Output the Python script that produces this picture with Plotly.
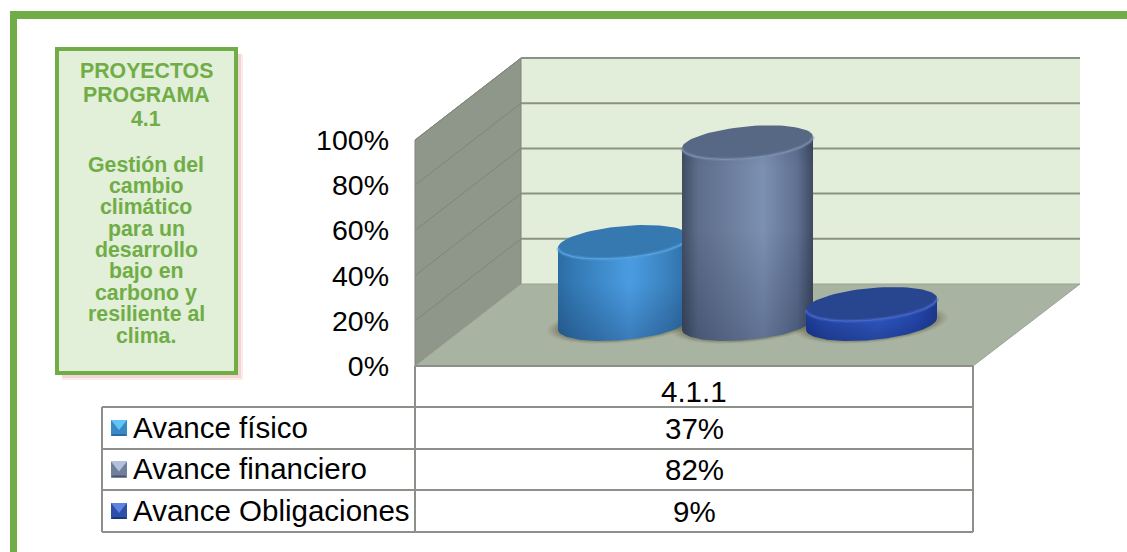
import math
import plotly.graph_objects as go

# ---- data ----
group_label = "4.1.1"
series_names = ["Avance físico", "Avance financiero", "Avance Obligaciones"]
series_values = [37, 82, 9]
tick_values = [0, 20, 40, 60, 80, 100]
tick_labels = ["0%", "20%", "40%", "60%", "80%", "100%"]
box_head = ["PROYECTOS", "PROGRAMA", "4.1"]
box_body = ["Gestión del", "cambio", "climático", "para un", "desarrollo",
            "bajo en", "carbono y", "resiliente al", "clima."]

# ---- styles ----
W, H = 1127, 552
FONT = "Liberation Sans"
GREEN = "#70AD47"
PALE = "#E2EFD9"
EDGE = "#8C8F8A"
GRID = "#8A9283"
top_cols = ["#3678B0", "#566884", "#27468F"]
rim_cols = ["#55A5E2", "#7C90B0", "#4A6AD0"]
body_scales = [
    [[0, "#2C6CA4"], [0.12, "#3379B4"], [0.55, "#4A9CE2"], [0.85, "#3A80BC"], [1, "#2C6CA4"]],
    [[0, "#3F4C62"], [0.12, "#5D6D8A"], [0.62, "#7C90B2"], [0.88, "#5F7090"], [1, "#3E4A60"]],
    [[0, "#1C3A94"], [0.15, "#2547A8"], [0.55, "#2E55BE"], [0.85, "#2344A6"], [1, "#1B368A"]],
]
key_cols = [("#62C4F2", "#3A88C6", "#2A6AA0"), ("#B4C0DC", "#6F7F9C", "#46536B"),
            ("#5F83E0", "#2C4FA8", "#1D3478")]

# ---- geometry: value axis is in percent, the other y axis in page pixels ----
Y0_PX, PX_PER_PCT = 366, 2.26
DX, DY = 106, 82          # depth vector of the floor
LEFT, RIGHT = 415, 973
y_top = Y0_PX / PX_PER_PCT
y_bot = (Y0_PX - H) / PX_PER_PCT
BAR_SCALE = 0.98          # foreshortening of bars set back from the front plane
BASE_PCT = (Y0_PX - 324) / PX_PER_PCT
A, B, C = 61.7, 22.0, 17.0
C_PCT = C / PX_PER_PCT
T0 = math.atan2(B, A)
FIRST_CX, STEP_CX = 623.5, 124


def ell(cx, cy, t_from, t_to, k=1.0, n=80):
    xs, ys = [], []
    for i in range(n + 1):
        t = t_from + (t_to - t_from) * i / n
        xs.append(cx + k * (A * math.cos(t) + B * math.sin(t)))
        ys.append(cy + k * C_PCT * math.sin(t))
    return xs, ys


fig = go.Figure()

# grid lines of both walls, taken from the value ticks
for tv in tick_values[1:]:
    fig.add_trace(go.Scatter(x=[LEFT, LEFT + DX], y=[tv, tv + DY / PX_PER_PCT], mode="lines",
                             line=dict(color="#7E8678", width=1), hoverinfo="skip", showlegend=False))
    fig.add_trace(go.Scatter(x=[LEFT + DX, RIGHT + DX + 1], y=[tv + DY / PX_PER_PCT] * 2, mode="lines",
                             line=dict(color=GRID, width=2), hoverinfo="skip", showlegend=False))

# soft shadows on the floor
for i in range(len(series_values)):
    cx = FIRST_CX + STEP_CX * i
    for k, al in [(1.17, 0.05), (1.13, 0.07), (1.09, 0.10), (1.05, 0.14)]:
        xs, ys = ell(cx, BASE_PCT, 0, 2 * math.pi, k)
        fig.add_trace(go.Scatter(x=xs, y=ys, mode="lines", fill="toself", line=dict(width=0),
                                 fillcolor=f"rgba(70,70,30,{al})", hoverinfo="skip", showlegend=False))

# cylinders
for i, (name, v) in enumerate(zip(series_names, series_values)):
    cx = FIRST_CX + STEP_CX * i
    top = BASE_PCT + v * BAR_SCALE
    fx_t, fy_t = ell(cx, top, T0 + math.pi, T0 + 2 * math.pi)
    fx_b, fy_b = ell(cx, BASE_PCT, T0 + math.pi, T0 + 2 * math.pi)
    bx = fx_t + fx_b[::-1] + [fx_t[0]]
    by = fy_t + fy_b[::-1] + [fy_t[0]]
    fig.add_trace(go.Scatter(x=bx, y=by, mode="lines", fill="toself", line=dict(width=0), name=name,
                             fillgradient=dict(type="horizontal", colorscale=body_scales[i]),
                             hoverinfo="skip", showlegend=False))
    fig.add_trace(go.Scatter(x=bx, y=by, mode="lines", fill="toself", line=dict(width=0),
                             fillgradient=dict(type="vertical", colorscale=[
                                 [0, "rgba(0,10,40,0.22)"], [0.55, "rgba(0,10,40,0)"],
                                 [0.85, "rgba(0,10,40,0)"], [1, "rgba(0,10,40,0.10)"]]),
                             hoverinfo="skip", showlegend=False))
    ex, ey = ell(cx, top, 0, 2 * math.pi)
    fig.add_trace(go.Scatter(x=ex, y=ey, mode="lines", fill="toself", line=dict(width=0),
                             fillcolor=top_cols[i], hoverinfo="skip", showlegend=False))
    fig.add_trace(go.Scatter(x=fx_t, y=fy_t, mode="lines", line=dict(color=rim_cols[i], width=4),
                             opacity=0.3, hoverinfo="skip", showlegend=False))
    fig.add_trace(go.Scatter(x=fx_t, y=fy_t, mode="lines", line=dict(color=rim_cols[i], width=1.5),
                             opacity=0.7, hoverinfo="skip", showlegend=False))

shapes = []


def rect(x0, y0, x1, y1, fill, lc=None, lw=0):
    shapes.append(dict(type="rect", xref="x", yref="y2", x0=x0, y0=y0, x1=x1, y1=y1, layer="below",
                       fillcolor=fill, line=dict(color=lc or fill, width=lw)))


def poly(pts, fill, lc=None, lw=0):
    path = "M" + " L".join(f"{x},{y}" for x, y in pts) + " Z"
    shapes.append(dict(type="path", xref="x", yref="y2", path=path, layer="below",
                       fillcolor=fill, line=dict(color=lc or fill, width=lw)))


def hline(x0, x1, y):
    shapes.append(dict(type="line", xref="x", yref="y2", x0=x0, x1=x1, y0=y, y1=y, layer="below",
                       line=dict(color=EDGE, width=2)))


def vline(x, y0, y1):
    shapes.append(dict(type="line", xref="x", yref="y2", x0=x, x1=x, y0=y0, y1=y1, layer="below",
                       line=dict(color=EDGE, width=2)))


# page frame
rect(10, 11, W, 19, GREEN)
rect(10, 11, 17, H, GREEN)

# text box with a soft pink shadow
rect(62, 54, 243, 380, "#FAEDEB")
rect(62, 54, 241, 378, "#F3D6D3")
rect(57, 49, 236, 373, PALE, GREEN, 4)

# walls and floor
FRONT_TOP = Y0_PX - 100 * PX_PER_PCT
poly([(LEFT + DX, FRONT_TOP - DY), (RIGHT + DX + 1, FRONT_TOP - DY),
      (RIGHT + DX + 1, Y0_PX - DY), (LEFT + DX, Y0_PX - DY)], "#E2EEDA")
poly([(LEFT, FRONT_TOP), (LEFT + DX, FRONT_TOP - DY), (LEFT + DX, Y0_PX - DY), (LEFT, Y0_PX)],
     "#8F978B", "#7F867B", 1)
poly([(LEFT, Y0_PX), (RIGHT, Y0_PX), (RIGHT + DX + 1, Y0_PX - DY), (LEFT + DX, Y0_PX - DY)],
     "#A9B3A2", "#9AA394", 1)

# data table
T_X0, T_ROWS = 102, [407, 449, 490, 532]
for y in T_ROWS:
    hline(T_X0, RIGHT, y)
hline(LEFT, RIGHT, Y0_PX)
vline(T_X0, T_ROWS[0], T_ROWS[-1])
vline(LEFT, Y0_PX, T_ROWS[-1])
vline(RIGHT, Y0_PX, T_ROWS[-1])

annotations = []


def text(x, y, s, size, color="#000000", bold=False, anchor="center"):
    annotations.append(dict(x=x, y=y, xref="x", yref="y2", text=f"<b>{s}</b>" if bold else s,
                            showarrow=False, xanchor=anchor, yanchor="middle",
                            font=dict(family=FONT, size=size, color=color)))


TABLE_Y = [428, 469, 511]
KEY_Y = [420, 461.5, 503]
text((LEFT + RIGHT) / 2, 391, group_label, 29.5)
for i, (name, v) in enumerate(zip(series_names, series_values)):
    text(131, TABLE_Y[i] - 1, name, 29.5, anchor="left")
    text((LEFT + RIGHT) / 2, TABLE_Y[i], f"{v}%", 29.5)
    x0, y0, s = 111, KEY_Y[i], 16
    hi, mid, lo = key_cols[i]
    poly([(x0, y0), (x0 + s, y0), (x0 + s, y0 + s), (x0, y0 + s)], mid)
    poly([(x0, y0), (x0 + s, y0), (x0 + s / 2, y0 + s * 0.62)], hi)
    poly([(x0, y0 + s), (x0 + s, y0 + s), (x0 + s - 2, y0 + s - 2), (x0 + 2, y0 + s - 2)], lo)

for y, s in zip([71, 95, 119], box_head):
    text(146, y, s, 21.3, GREEN, True)
for y, s in zip([165, 186, 207, 229, 250, 271, 293, 314, 336], box_body):
    text(146, y, s, 21.3, GREEN, True)

fig.update_layout(
    width=W, height=H, margin=dict(l=0, r=0, t=0, b=0), autosize=False,
    paper_bgcolor="white", plot_bgcolor="rgba(0,0,0,0)", showlegend=False,
    shapes=shapes, annotations=annotations,
    xaxis=dict(range=[0, W], visible=False, fixedrange=True, domain=[0, 1]),
    yaxis=dict(range=[y_bot, y_top], anchor="free", position=389 / W, side="left", fixedrange=True,
               tickmode="array", tickvals=tick_values, ticktext=tick_labels, ticks="",
               showgrid=False, zeroline=False, showline=False,
               tickfont=dict(family=FONT, size=28.5, color="#000000"), domain=[0, 1]),
    yaxis2=dict(range=[H, 0], overlaying="y", visible=False, fixedrange=True, domain=[0, 1]),
)
# keeps the pixel axis alive for shapes and annotations
fig.add_trace(go.Scatter(x=[0], y=[0], yaxis="y2", mode="markers", marker=dict(opacity=0),
                         hoverinfo="skip", showlegend=False))

fig.write_html("out.html", config=dict(displayModeBar=False),
               post_script="document.body.style.margin='0';document.body.style.overflow='hidden';")
